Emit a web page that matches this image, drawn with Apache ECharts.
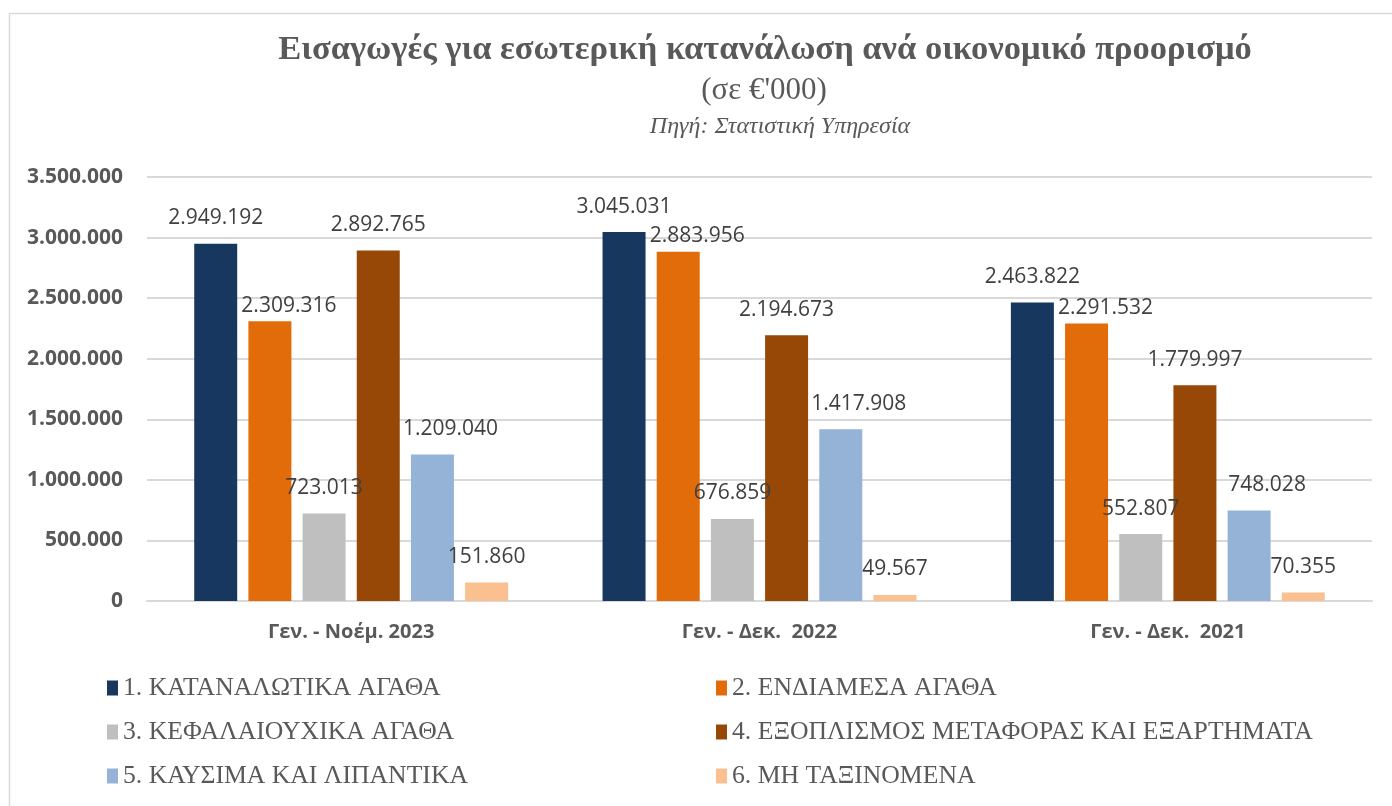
<!DOCTYPE html>
<html>
<head>
<meta charset="utf-8">
<script src="https://cdn.jsdelivr.net/npm/echarts@6/dist/echarts.min.js"></script>
<style>
  html, body { margin: 0; padding: 0; background: #fff; }
  #main { width: 1392px; height: 806px; }
</style>
</head>
<body>
<div id="main"></div>
<script>
// περίοδοι
var periods = ['Γεν. - Νοέμ. 2023', 'Γεν. - Δεκ.  2022', 'Γεν. - Δεκ.  2021'];
var seriesNames = [
  '1. ΚΑΤΑΝΑΛΩΤΙΚΑ ΑΓΑΘΑ',
  '2. ΕΝΔΙΑΜΕΣΑ ΑΓΑΘΑ',
  '3. ΚΕΦΑΛΑΙΟΥΧΙΚΑ ΑΓΑΘΑ',
  '4. ΕΞΟΠΛΙΣΜΟΣ ΜΕΤΑΦΟΡΑΣ ΚΑΙ ΕΞΑΡΤΗΜΑΤΑ',
  '5. ΚΑΥΣΙΜΑ ΚΑΙ ΛΙΠΑΝΤΙΚΑ',
  '6. ΜΗ ΤΑΞΙΝΟΜΕΝΑ'
];
var consumerGoods = [2949192, 3045031, 2463822];
var intermediateGoods = [2309316, 2883956, 2291532];
var capitalGoods = [723013, 676859, 552807];
var transportEquipment = [2892765, 2194673, 1779997];
var fuels = [1209040, 1417908, 748028];
var unclassified = [151860, 49567, 70355];
var colors = ['#17375E', '#E36C0A', '#BFBFBF', '#974806', '#95B3D7', '#FAC090'];
// μετατόπιση ετικετών όπως στο excel
var labelOffsets = [[0, 0], [19, 10], [0, 0], [0, 0], [18, 0], [0, 0]];

function fmt(v) {
  return String(v).replace(/\B(?=(\d{3})+(?!\d))/g, '.');
}

var allData = [consumerGoods, intermediateGoods, capitalGoods, transportEquipment, fuels, unclassified];
var series = allData.map(function (d, i) {
  return {
    name: seriesNames[i],
    type: 'bar',
    data: d,
    barWidth: 43,
    barGap: '26%',
    itemStyle: { color: colors[i] },
    label: {
      show: true,
      position: 'top',
      distance: 15,
      offset: labelOffsets[i],
      color: '#404040',
      fontSize: 21,
      fontFamily: 'Open Sans',
      formatter: function (p) { return fmt(p.value); }
    }
  };
});

var legendText = { color: '#595959', fontSize: 25.7, fontFamily: 'Liberation Serif' };

var option = {
  animation: false,
  color: colors,
  title: [
    {
      text: 'Εισαγωγές για εσωτερική κατανάλωση ανά οικονομικό προορισμό',
      left: 760, top: 28, textAlign: 'center',
      textStyle: { fontFamily: 'Liberation Serif', fontSize: 34.5, fontWeight: 'bold', color: '#595959' }
    },
    {
      text: "(σε €'000)",
      left: 759, top: 70, textAlign: 'center',
      textStyle: { fontFamily: 'Liberation Serif', fontSize: 31, fontWeight: 'normal', color: '#595959' }
    },
    {
      text: 'Πηγή: Στατιστική Υπηρεσία',
      left: 775, top: 110, textAlign: 'center',
      textStyle: { fontFamily: 'Liberation Serif', fontSize: 24, fontStyle: 'italic', fontWeight: 'normal', color: '#595959' }
    }
  ],
  graphic: [{
    type: 'rect',
    shape: { x: 9.5, y: 13.5, width: 1400, height: 800 },
    style: { fill: 'none', stroke: '#D9D9D9', lineWidth: 1.5 },
    silent: true
  }],
  legend: [
    {
      data: [seriesNames[0], seriesNames[2], seriesNames[4]],
      orient: 'vertical', left: 102, top: 670, itemGap: 18,
      itemWidth: 11, itemHeight: 15, icon: 'rect',
      textStyle: legendText
    },
    {
      data: [seriesNames[1], seriesNames[3], seriesNames[5]],
      orient: 'vertical', left: 711, top: 670, itemGap: 18,
      itemWidth: 11, itemHeight: 15, icon: 'rect',
      textStyle: legendText
    }
  ],
  grid: { left: 147, right: 20, top: 177, bottom: 205 },
  xAxis: {
    type: 'category',
    data: periods,
    axisTick: { show: false },
    axisLine: { lineStyle: { color: '#D9D9D9', width: 2 } },
    axisLabel: { color: '#595959', fontSize: 20, fontWeight: 'bold', fontFamily: 'Open Sans', margin: 21 }
  },
  yAxis: {
    type: 'value',
    min: 0, max: 3500000, interval: 500000,
    axisLine: { show: false },
    axisTick: { show: false },
    splitLine: { lineStyle: { color: '#D9D9D9', width: 2 } },
    axisLabel: {
      color: '#595959', fontSize: 21, fontWeight: 'bold', fontFamily: 'Open Sans', margin: 24,
      formatter: function (v) { return fmt(v); }
    }
  },
  series: series
};

var myChart = echarts.init(document.getElementById('main'));
myChart.setOption(option, true);
</script>
</body>
</html>
